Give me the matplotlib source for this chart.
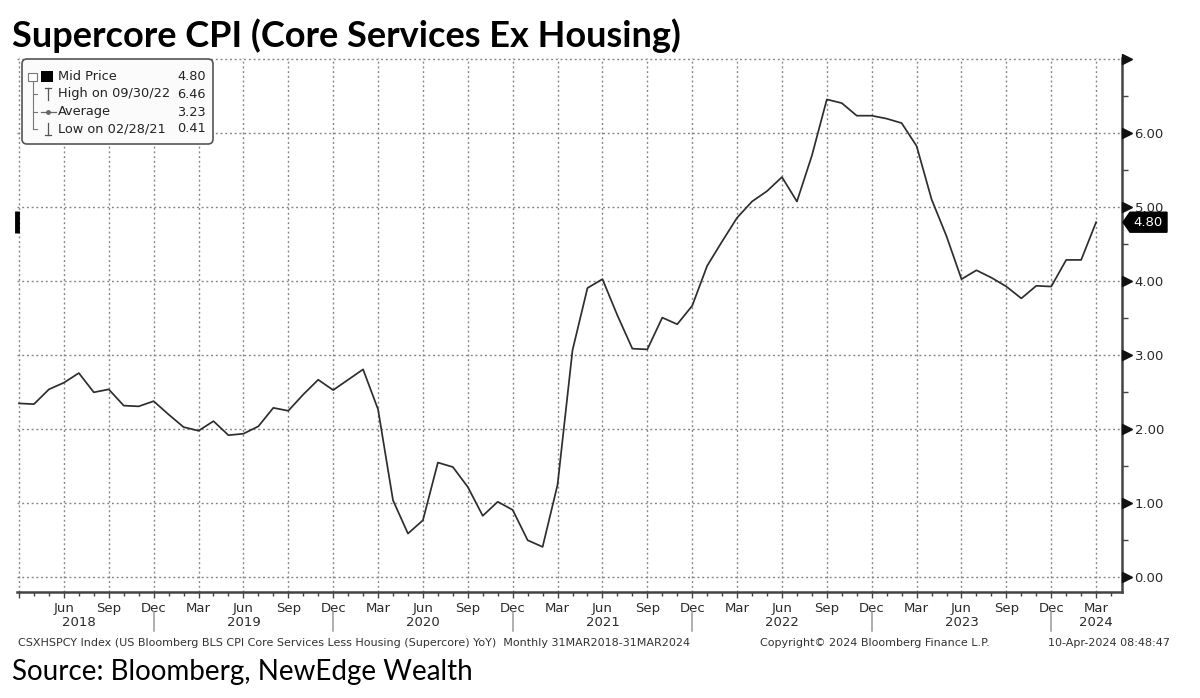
import matplotlib
matplotlib.use("Agg")
import matplotlib.pyplot as plt
import matplotlib.transforms as mtransforms
from matplotlib.patches import FancyBboxPatch, Rectangle, Polygon
from matplotlib.lines import Line2D

# ---------------- data ----------------
start_year = 2018
start_month = 3  # March 2018
values = [
    # 2018 Mar-Dec
    2.35, 2.34, 2.54, 2.63, 2.76, 2.50, 2.54, 2.32, 2.31, 2.38,
    # 2019
    2.20, 2.03, 1.98, 2.11, 1.92, 1.94, 2.04, 2.29, 2.25, 2.47, 2.67, 2.53,
    # 2020
    2.67, 2.81, 2.27, 1.04, 0.59, 0.77, 1.55, 1.49, 1.22, 0.83, 1.02, 0.91,
    # 2021
    0.50, 0.41, 1.25, 3.07, 3.91, 4.03, 3.54, 3.09, 3.08, 3.51, 3.42, 3.67,
    # 2022
    4.21, 4.54, 4.86, 5.08, 5.22, 5.41, 5.08, 5.70, 6.46, 6.41, 6.24, 6.24,
    # 2023
    6.20, 6.14, 5.83, 5.11, 4.61, 4.03, 4.15, 4.05, 3.93, 3.77, 3.94, 3.93,
    # 2024 Jan-Mar
    4.29, 4.29, 4.80,
]
month_names = ["Jan", "Feb", "Mar", "Apr", "May", "Jun",
               "Jul", "Aug", "Sep", "Oct", "Nov", "Dec"]
years = [2018, 2019, 2020, 2021, 2022, 2023, 2024]
y_ticks = [0, 1, 2, 3, 4, 5, 6, 7]
legend_labels = ["Mid Price", "High on 09/30/22", "Average", "Low on 02/28/21"]
legend_values = ["4.80", "6.46", "3.23", "0.41"]

title = "Supercore CPI (Core Services Ex Housing)"
footer_left = "CSXHSPCY Index (US Bloomberg BLS CPI Core Services Less Housing (Supercore) YoY)  Monthly 31MAR2018-31MAR2024"
footer_mid = "Copyright\u00a9 2024 Bloomberg Finance L.P."
footer_right = "10-Apr-2024 08:48:47"
source = "Source: Bloomberg, NewEdge Wealth"

# ---------------- figure ----------------
W, H = 1200, 698
fig = plt.figure(figsize=(W / 100, H / 100), dpi=100)
fig.patch.set_facecolor("white")
inch = fig.dpi_scale_trans


def P(px, py):
    """pixel (from top-left) -> inches for fig.dpi_scale_trans"""
    return px / 100.0, (H - py) / 100.0


ax_l, ax_r, ax_t, ax_b = 17, 1122, 58, 592
ax = fig.add_axes([ax_l / W, 1 - ax_b / H, (ax_r - ax_l) / W, (ax_b - ax_t) / H])

idx = list(range(len(values)))
ax.plot(idx, values, color="#2e2e2e", lw=1.25, solid_joinstyle="round", zorder=3)

ax.set_xlim(-0.134, 73.73)
ax.set_ylim(-0.2, 7.02)

# spines
for s in ["left", "top"]:
    ax.spines[s].set_visible(False)
for s in ["right", "bottom"]:
    ax.spines[s].set_color("#444444")
    ax.spines[s].set_linewidth(1.8)

# x ticks: quarterly major, monthly minor
n = len(values)
quarter_idx = [i for i in range(n) if (start_month - 1 + i) % 3 == 2]
ax.set_xticks(quarter_idx)
ax.set_xticklabels(["" if i == 0 else month_names[(start_month - 1 + i) % 12] for i in quarter_idx])
ax.set_xticks(list(range(0, 74)), minor=True)
ax.tick_params(axis="x", which="major", direction="out", length=4, width=1, color="#444444",
               labelsize=9.5, labelcolor="#2a2a2a", pad=3)
ax.tick_params(axis="x", which="minor", direction="out", length=3, width=1, color="#444444")
for lab in ax.get_xticklabels():
    lab.set_fontfamily("DejaVu Sans")

# y ticks on right
ax.yaxis.tick_right()
ax.set_yticks(y_ticks)
ax.set_yticklabels([f"{v:.2f}" if v < 7 else "" for v in y_ticks])
ax.set_yticks([v + 0.5 for v in y_ticks[:-1]], minor=True)
ax.tick_params(axis="y", which="major", length=0, pad=9, labelsize=9.5, labelcolor="#2a2a2a")
ax.tick_params(axis="y", which="minor", direction="out", length=4, width=1, color="#444444")
for lab in ax.get_yticklabels():
    lab.set_fontfamily("DejaVu Sans")

# grid
ax.grid(True, which="major", color="#858585", lw=1.0, linestyle=(0, (1.4, 2.0)))
ax.set_axisbelow(True)

# triangle tick marks on right axis
blend_r = mtransforms.blended_transform_factory(inch, ax.transData)
ax.plot([1126.5 / 100] * len(y_ticks), y_ticks, linestyle="none", marker=">", ms=6.5,
        color="#111111", transform=blend_r, clip_on=False, zorder=5)

# year labels and separators
blend_x = mtransforms.blended_transform_factory(ax.transData, inch)
for k, yr in enumerate(years):
    pos = 4 if k == 0 else 12 * k - 3 + 6  # mid-year position by month index
    if yr == 2024:
        pos = 72
    ax.text(pos, (H - 623) / 100, str(yr), transform=blend_x, ha="center", va="center",
            fontsize=9.5, color="#2a2a2a", fontfamily="DejaVu Sans")
for i in range(n):
    if (start_month - 1 + i) % 12 == 11:
        ax.add_line(Line2D([i, i], [(H - 612) / 100, (H - 631) / 100], transform=blend_x,
                           color="#9a9a9a", lw=1.1, clip_on=False))

# last value tag
last = values[-1]
hh = 0.135
tag = Polygon([(1123 / 100, last), (1130 / 100, last + hh), (1167 / 100, last + hh),
               (1167 / 100, last - hh), (1130 / 100, last - hh)], closed=True,
              transform=blend_r, facecolor="black", edgecolor="black", clip_on=False, zorder=6)
ax.add_patch(tag)
ax.text(1148 / 100, last, f"{last:.2f}", transform=blend_r, ha="center", va="center",
        color="white", fontsize=9.5, zorder=7, fontfamily="DejaVu Sans")
# left-edge marker
ax.add_line(Line2D([16.5 / 100, 16.5 / 100], [last - 0.15, last + 0.15], transform=blend_r,
                   color="black", lw=3.5, clip_on=False, solid_capstyle="butt"))

# ---------------- legend box ----------------
x0, y0 = P(22, 144)
x1, y1 = P(213, 59)
box = FancyBboxPatch((x0, y0), x1 - x0, y1 - y0, boxstyle="round,pad=0,rounding_size=0.05",
                     transform=inch, facecolor="#fbfbfb", edgecolor="#555555", lw=1.2, zorder=8)
fig.patches.append(box)
rows_y = [76, 94, 112, 129]
gc = "#777777"


def L(xs, ys, **kw):
    pts = [P(a, b) for a, b in zip(xs, ys)]
    fig.lines.append(Line2D([p[0] for p in pts], [p[1] for p in pts], transform=inch,
                            zorder=9, **kw))


# collapse box
rx, ry = P(28.5, 80.5)
fig.patches.append(Rectangle((rx, ry), 0.08, 0.08, transform=inch, facecolor="white",
                             edgecolor=gc, lw=0.8, zorder=9))
L([30.5, 35], [76.5, 76.5], color=gc, lw=0.8)
# tree lines
L([32.5, 32.5], [80.5, 129], color=gc, lw=0.8)
for ry_ in rows_y[1:]:
    L([32.5, 37], [ry_, ry_], color=gc, lw=0.8)
# black square
sx, sy = P(41, 82)
fig.patches.append(Rectangle((sx, sy), 0.115, 0.11, transform=inch, facecolor="black",
                             edgecolor="black", lw=0, zorder=9))
# high icon
L([48, 48], [88, 100], color="#555555", lw=0.9)
L([45, 51], [88, 88], color="#555555", lw=0.9)
# average icon
L([41, 56], [112, 112], color="#666666", lw=0.9)
L([48], [112], color="#666666", marker="o", ms=2.5, linestyle="none")
# low icon
L([48, 48], [123, 135], color="#555555", lw=0.9)
L([45, 51], [135, 135], color="#555555", lw=0.9)

for ry_, lab, val in zip(rows_y, legend_labels, legend_values):
    tx, ty = P(58, ry_)
    fig.text(tx, ty, lab, transform=inch, ha="left", va="center", fontsize=9.3,
             color="#222222", fontfamily="DejaVu Sans", zorder=10)
    vx, vy = P(206, ry_)
    fig.text(vx, vy, val, transform=inch, ha="right", va="center", fontsize=9.3,
             color="#222222", fontfamily="DejaVu Sans", zorder=10)

# ---------------- title / footer ----------------
tx, ty = P(12, 47)
fig.text(tx, ty, title, transform=inch, ha="left", va="baseline", fontsize=26,
         fontweight="bold", color="black", fontfamily=["Lato", "DejaVu Sans"])

fy = P(0, 643)[1]
fig.text(18 / 100, fy, footer_left, transform=inch, ha="left", va="center", fontsize=8,
         color="#333333", fontfamily="DejaVu Sans")
fig.text(760 / 100, fy, footer_mid, transform=inch, ha="left", va="center", fontsize=8,
         color="#333333", fontfamily="DejaVu Sans")
fig.text(1170 / 100, fy, footer_right, transform=inch, ha="right", va="center", fontsize=8,
         color="#333333", fontfamily="DejaVu Sans")

sx, sy = P(12, 680)
fig.text(sx, sy, source, transform=inch, ha="left", va="baseline", fontsize=20,
         color="black", fontfamily=["Lato", "DejaVu Sans"])

fig.savefig("out.png", dpi=100, facecolor="white")
